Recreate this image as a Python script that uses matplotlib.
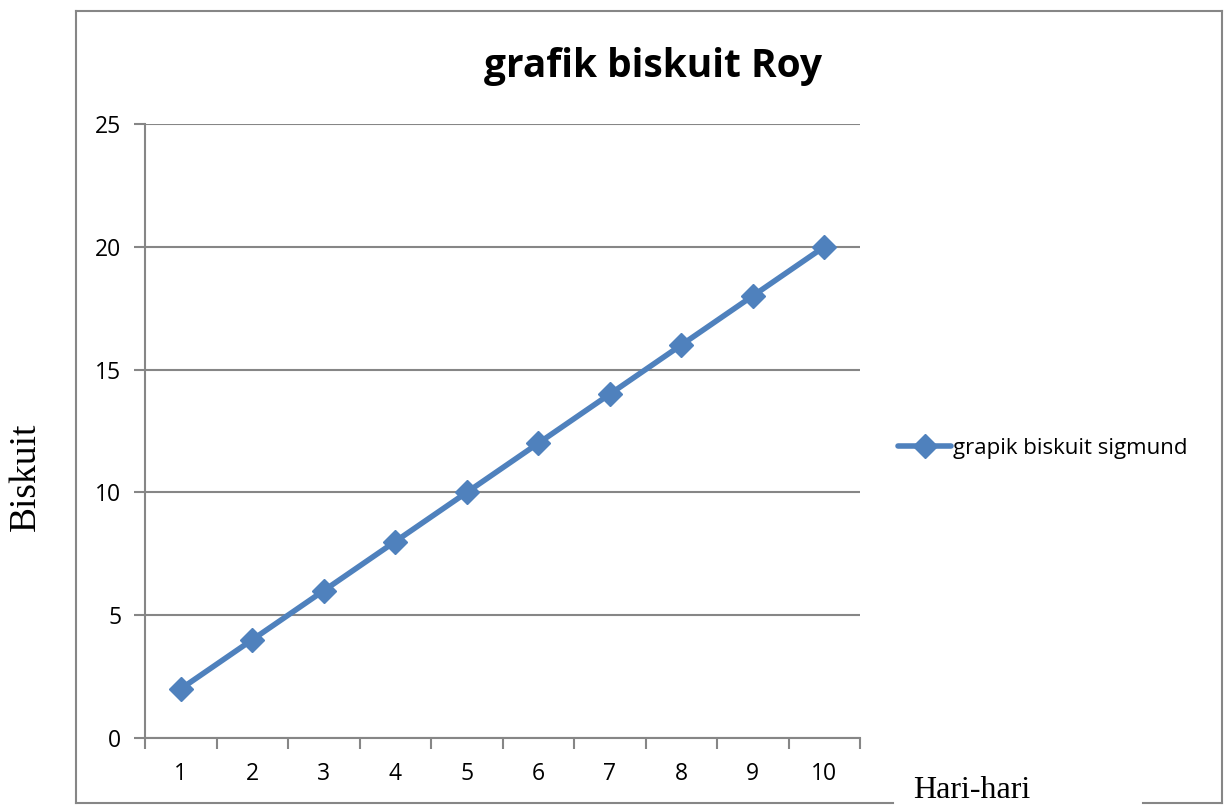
import matplotlib
matplotlib.use("Agg")
import matplotlib.pyplot as plt
from matplotlib.lines import Line2D

# data
hari = ["1", "2", "3", "4", "5", "6", "7", "8", "9", "10"]
biskuit = [2, 4, 6, 8, 10, 12, 14, 16, 18, 20]
y_ticks = [0, 5, 10, 15, 20, 25]

W, H = 1232, 805
fig = plt.figure(figsize=(W / 100, H / 100), dpi=100)

def fx(px):
    return px / W

def fy(py):
    return 1 - py / H

grey = "#868686"
blue = "#4F81BD"

# outer chart frame, bottom edge broken where the x label sits
frame = [((76, 11), (1222, 11)), ((76, 11), (76, 803)), ((1222, 11), (1222, 803)),
         ((76, 803), (893, 803)), ((1143, 803), (1222, 803))]
for (x0, y0), (x1, y1) in frame:
    fig.add_artist(Line2D([fx(x0), fx(x1)], [fy(y0), fy(y1)], color=grey, lw=1.5))

ax = fig.add_axes([fx(145), fy(738), fx(860) - fx(145), fy(124) - fy(738)])
x = list(range(len(hari)))
ax.plot(x, biskuit, color=blue, lw=4, marker="D", markersize=12,
        label="grapik biskuit sigmund", solid_capstyle="round")

ax.set_xlim(-0.5, len(hari) - 0.5)
ax.set_ylim(0, 25)
ax.set_yticks(y_ticks)
ax.grid(axis="y", color=grey, lw=1.5)
ax.set_axisbelow(True)

ax.set_xticks(x)
ax.set_xticklabels(hari)
ax.set_xticks([i - 0.5 for i in range(len(hari) + 1)], minor=True)
ax.tick_params(axis="x", which="major", length=0, pad=17)
ax.tick_params(axis="x", which="minor", length=8, width=1.5, color=grey, direction="out")
ax.tick_params(axis="y", length=8, width=1.5, color=grey, direction="out", pad=9)
for lab in ax.get_xticklabels() + ax.get_yticklabels():
    lab.set_fontfamily("Open Sans")
    lab.set_fontsize(16.5)

for s in ["top", "right"]:
    ax.spines[s].set_visible(False)
for s in ["left", "bottom"]:
    ax.spines[s].set_color(grey)
    ax.spines[s].set_linewidth(1.5)

fig.text(fx(653), fy(67), "grafik biskuit Roy", ha="center", va="center",
         fontsize=28, fontweight="bold", fontfamily="Open Sans")
fig.text(fx(26), fy(477), "Biskuit", rotation=90, ha="center", va="center",
         fontsize=27, fontfamily="Liberation Serif")
fig.text(fx(913), fy(790), "Hari-hari", ha="left", va="center",
         fontsize=23, fontfamily="Liberation Serif")

ax_w = fx(860) - fx(145)
ax_h = fy(124) - fy(738)
ax.legend(loc="center left",
          bbox_to_anchor=((fx(889) - fx(145)) / ax_w, (fy(448) - fy(738)) / ax_h),
          frameon=False, handlelength=2.4, handletextpad=0.1, borderaxespad=0,
          prop={"family": "Open Sans", "size": 16})

fig.savefig("out.png", dpi=100)
